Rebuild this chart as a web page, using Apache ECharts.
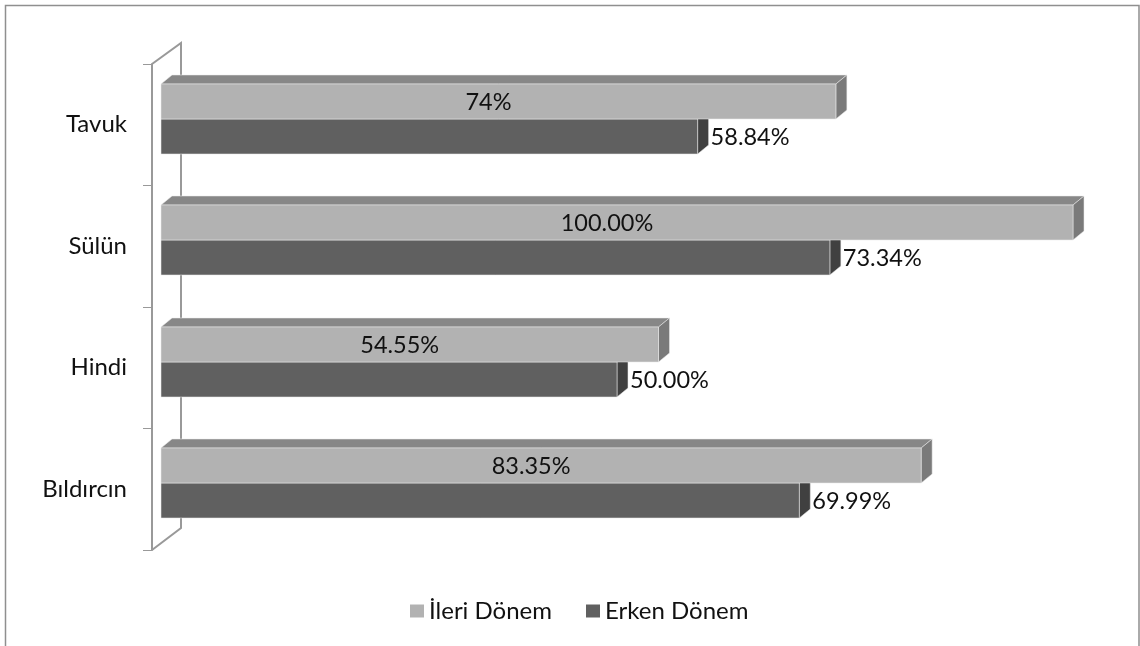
<!DOCTYPE html>
<html>
<head>
<meta charset="utf-8">
<script src="https://cdn.jsdelivr.net/npm/echarts@6/dist/echarts.min.js"></script>
<style>
  html, body { margin: 0; padding: 0; background: #ffffff; }
  #chart { width: 1140px; height: 646px; }
</style>
</head>
<body>
<div id="chart"></div>
<script>
// Categories, top to bottom
const categories = ['Tavuk', 'Sülün', 'Hindi', 'Bıldırcın'];
// Percentages as printed on the bars (the bar length uses the same number)
const ileriValues = ['74', '100.00', '54.55', '83.35'];
const erkenValues = ['58.84', '73.34', '50.00', '69.99'];
const seriesNames = ['İleri Dönem', 'Erken Dönem'];

const FONT = 'Lato, "Open Sans", sans-serif';
const DEPTH_X = 11, DEPTH_Y = -9;   // 3D extrusion of each bar
const BAR_FRAC = 0.288;             // bar thickness as share of a category band

const palettes = [
  { front: '#b2b2b2', top: '#878787', side: '#7a7a7a' },
  { front: '#606060', top: '#4c4c4c', side: '#404040' }
];

function makeRender(which, texts) {
  return function (params, api) {
    const v = api.value(0);
    const c = api.value(1);
    const p0 = api.coord([0, c]);
    const p1 = api.coord([v, c]);
    const band = api.size([0, 1])[1];
    const h = Math.round(band * BAR_FRAC);
    const y0 = which === 0 ? Math.round(p0[1]) - h : Math.round(p0[1]);
    const x0 = p0[0], x1 = p1[0], y1 = y0 + h;
    const col = palettes[which];
    const edge = { stroke: 'rgba(235,235,235,0.9)', lineWidth: 0.6 };
    const children = [
      { type: 'polygon', shape: { points: [[x0, y0], [x0 + DEPTH_X, y0 + DEPTH_Y], [x1 + DEPTH_X, y0 + DEPTH_Y], [x1, y0]] },
        style: Object.assign({ fill: col.top }, edge) },
      { type: 'polygon', shape: { points: [[x1, y0], [x1 + DEPTH_X, y0 + DEPTH_Y], [x1 + DEPTH_X, y1 + DEPTH_Y], [x1, y1]] },
        style: Object.assign({ fill: col.side }, edge) },
      { type: 'rect', shape: { x: x0, y: y0, width: x1 - x0, height: h },
        style: Object.assign({ fill: col.front }, edge) }
    ];
    const label = texts[params.dataIndex] + '%';
    if (which === 0) {
      children.push({ type: 'text', style: { text: label, x: (x0 + x1) / 2 - 10, y: y0 + h / 2 + 1,
        align: 'center', verticalAlign: 'middle', font: '23.5px ' + FONT, fill: '#111111' } });
    } else {
      children.push({ type: 'text', style: { text: label, x: x1 + DEPTH_X + 2, y: y0 + h / 2 + 1,
        align: 'left', verticalAlign: 'middle', font: '23.5px ' + FONT, fill: '#111111' } });
    }
    return { type: 'group', children: children };
  };
}

const chart = echarts.init(document.getElementById('chart'));
chart.setOption({
  animation: false,
  backgroundColor: '#ffffff',
  graphic: [
    // outer frame
    { type: 'rect', z: 0, shape: { x: 5.5, y: 5.5, width: 1133.5, height: 700 },
      style: { fill: 'none', stroke: '#8f8f8f', lineWidth: 1.5 } },
    // back wall edge behind the bars
    { type: 'polyline', z: 0, shape: { points: [[152, 64], [181, 43], [181, 528], [152, 550]] },
      style: { fill: 'none', stroke: '#999999', lineWidth: 2 } }
  ],
  legend: {
    data: seriesNames,
    left: 405, top: 594,
    icon: 'rect', itemWidth: 14, itemHeight: 13, itemGap: 34,
    textStyle: { fontFamily: FONT, fontSize: 24, color: '#111111' }
  },
  grid: [
    { left: 161, right: 67, top: 58, height: 486 },
    { left: 152, right: 67, top: 64, height: 486 }
  ],
  xAxis: [
    { type: 'value', gridIndex: 0, min: 0, max: 100, show: false },
    { type: 'value', gridIndex: 1, min: 0, max: 100, show: false }
  ],
  yAxis: [
    { type: 'category', gridIndex: 0, data: categories, inverse: true, show: false },
    { type: 'category', gridIndex: 1, data: categories, inverse: true,
      axisLine: { show: true, lineStyle: { color: '#999999', width: 2 } },
      axisTick: { show: true, length: 9, lineStyle: { color: '#999999', width: 1 } },
      axisLabel: { margin: 25, fontFamily: FONT, fontSize: 24, color: '#111111' },
      splitLine: { show: false } }
  ],
  series: [
    { name: seriesNames[1], type: 'custom', xAxisIndex: 0, yAxisIndex: 0, z: 3,
      itemStyle: { color: '#606060' },
      data: erkenValues.map((v, i) => [Number(v), i]),
      encode: { x: 0, y: 1 },
      renderItem: makeRender(1, erkenValues) },
    { name: seriesNames[0], type: 'custom', xAxisIndex: 0, yAxisIndex: 0, z: 4,
      itemStyle: { color: '#b2b2b2' },
      data: ileriValues.map((v, i) => [Number(v), i]),
      encode: { x: 0, y: 1 },
      renderItem: makeRender(0, ileriValues) }
  ]
});
</script>
</body>
</html>
